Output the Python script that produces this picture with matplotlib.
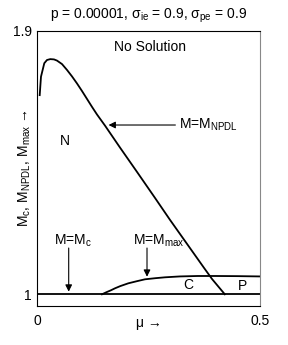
import matplotlib
matplotlib.use('Agg')
import matplotlib.pyplot as plt

plt.rcParams['font.family'] = ['Liberation Sans', 'DejaVu Sans']
plt.rcParams['mathtext.fontset'] = 'custom'
plt.rcParams['mathtext.rm'] = 'Liberation Sans'
plt.rcParams['mathtext.it'] = 'Liberation Sans:italic'

# M_NPDL boundary
mu_npdl = [0.0054, 0.0083, 0.0157, 0.0218, 0.0292, 0.0375, 0.0442, 0.0555,
           0.0667, 0.0779, 0.0891, 0.1004, 0.1116, 0.1228, 0.1340, 0.152,
           0.1857, 0.2238, 0.2643, 0.2980, 0.3362, 0.3744, 0.3924, 0.421]
m_npdl = [1.680, 1.743, 1.789, 1.800, 1.803, 1.802, 1.798, 1.786,
          1.766, 1.744, 1.720, 1.694, 1.667, 1.640, 1.614, 1.576,
          1.501, 1.418, 1.329, 1.254, 1.172, 1.090, 1.052, 1.0]

# M_max boundary
mu_max = [0.1453, 0.155, 0.165, 0.1745, 0.1863, 0.2043, 0.2243, 0.2418,
          0.265, 0.2867, 0.32, 0.36, 0.40, 0.45, 0.5]
m_max = [1.0, 1.007, 1.0135, 1.0205, 1.028, 1.0375, 1.045, 1.0512,
         1.055, 1.058, 1.061, 1.0625, 1.0625, 1.062, 1.061]

# M_c boundary
mu_c = [0.0, 0.5]
m_c = [1.0, 1.0]

fs = 10

fig = plt.figure(figsize=(2.88, 3.45), dpi=100)
ax = fig.add_axes([0.1295, 0.113, 0.7733, 0.798])

ax.plot(mu_npdl, m_npdl, color='black', lw=1.3)
ax.plot(mu_max, m_max, color='black', lw=1.3)
ax.plot(mu_c, m_c, color='black', lw=1.3)

ax.set_xlim(0, 0.5)
ax.set_ylim(0.96, 1.9)
ax.set_xticks([0, 0.5])
ax.set_xticklabels(['0', '0.5'])
ax.set_yticks([1, 1.9])
ax.set_yticklabels(['1', '1.9'])
ax.tick_params(length=0, labelsize=fs)
ax.tick_params(axis='x', pad=6)
ax.tick_params(axis='y', pad=4)
ax.spines['right'].set_color('#888888')

ax.set_title('p = 0.00001, σ$_{\\mathrm{ie}}$ = 0.9, σ$_{\\mathrm{pe}}$ = 0.9',
             fontsize=fs, pad=9)
ax.set_xlabel('μ →', fontsize=fs)
ax.xaxis.set_label_coords(0.5, -0.035)
ax.set_ylabel('M$_{\\mathrm{c}}$, M$_{\\mathrm{NPDL}}$, M$_{\\mathrm{max}}$ →',
              fontsize=fs)
ax.yaxis.set_label_coords(-0.02, 0.5)

ax.text(0.253, 1.845, 'No Solution', fontsize=fs, ha='center', va='center')
ax.text(0.063, 1.524, 'N', fontsize=fs, ha='center', va='center')
ax.text(0.338, 1.031, 'C', fontsize=fs, ha='center', va='center')
ax.text(0.460, 1.027, 'P', fontsize=fs, ha='center', va='center')

arr = dict(arrowstyle='-|>', color='black', lw=0.8, mutation_scale=10,
           shrinkA=0, shrinkB=0)
ax.annotate('', xy=(0.160, 1.578), xytext=(0.310, 1.578), arrowprops=arr)
ax.text(0.318, 1.578, 'M=M$_{\\mathrm{NPDL}}$', fontsize=fs, ha='left', va='center')
ax.annotate('', xy=(0.0705, 1.009), xytext=(0.0705, 1.158), arrowprops=arr)
ax.text(0.037, 1.181, 'M=M$_{\\mathrm{c}}$', fontsize=fs, ha='left', va='center')
ax.annotate('', xy=(0.2463, 1.060), xytext=(0.2463, 1.158), arrowprops=arr)
ax.text(0.214, 1.181, 'M=M$_{\\mathrm{max}}$', fontsize=fs, ha='left', va='center')

fig.savefig('out.png', dpi=100)
